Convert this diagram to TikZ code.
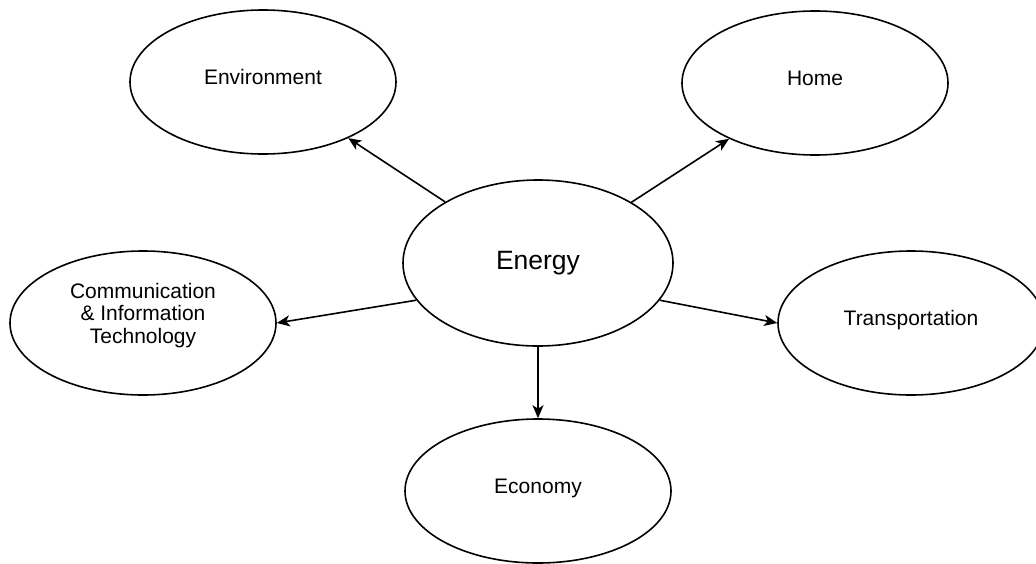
\documentclass[tikz,border=0pt]{standalone}
\usepackage{fontspec}
\setmainfont{Liberation Sans}
\usepackage{tikz}
\usetikzlibrary{shapes.geometric}
\usetikzlibrary{arrows.meta}

\begin{document}
\begin{tikzpicture}[x=1pt,y=-1pt,
        bubble/.style={ellipse,draw,line width=1.6pt,minimum width=266pt,minimum height=144pt,inner sep=0pt,font=\fontsize{21}{22.5}\selectfont},
        oneline/.style={bubble,text height=15pt,text depth=11pt},
        hub/.style={bubble,minimum width=270pt,minimum height=166pt,font=\fontsize{26.5}{30}\selectfont},
        arr/.style={-{Stealth[length=13pt,width=11pt,inset=3.5pt]},line width=1.6pt}]
        \useasboundingbox (0,0) rectangle (1036,563);

        \node[hub] (energy) at (538,263) {Energy};
        \node[oneline] (env) at (263,82) {Environment};
        \node[oneline] (home) at (815,83) {Home};
        \node[bubble] (comm) at (143,323) {\raisebox{7pt}[\height][\depth]{\begin{tabular}{@{}c@{}}Communication\\ \& Information\\ Technology\end{tabular}}};
        \node[oneline] (trans) at (911,323) {Transportation};
        \node[oneline] (econ) at (538,491) {Economy};

        \draw[arr] (energy) -- (env);
        \draw[arr] (energy) -- (home);
        \draw[arr] (energy.197) -- (comm.east);
        \draw[arr] (energy.343) -- (trans.west);
        \draw[arr] (energy.south) -- (econ.north);
    \end{tikzpicture}
\end{document}
